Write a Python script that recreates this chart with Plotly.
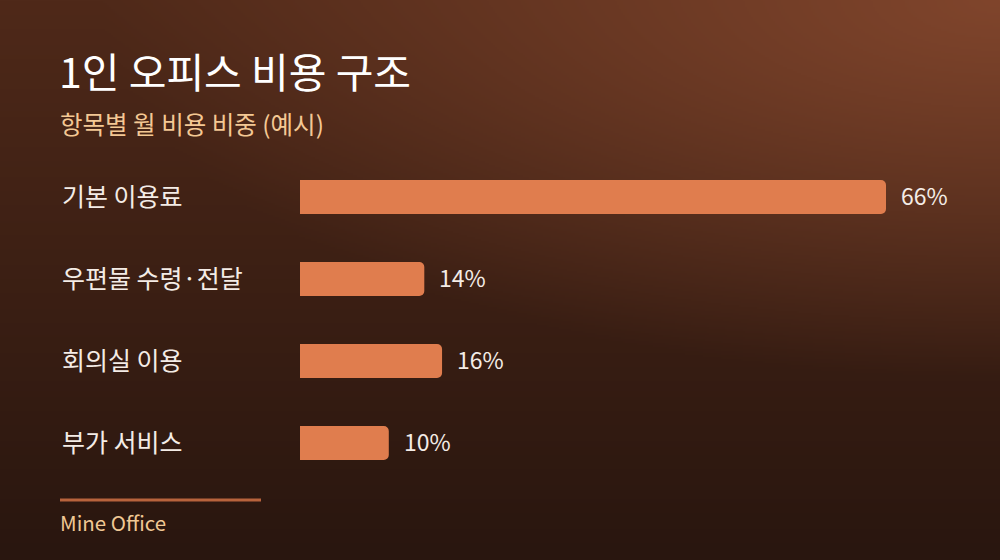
import base64, struct, zlib
import numpy as np
import plotly.graph_objects as go

# ---- data ----
categories = ["기본 이용료", "우편물 수령·전달", "회의실 이용", "부가 서비스"]
shares = [66, 14, 16, 10]
value_labels = ["66%", "14%", "16%", "10%"]
title_text = "1인 오피스 비용 구조"
subtitle_text = "항목별 월 비용 비중 (예시)"
source_text = "Mine Office"

# ---- background gradient image (style only) ----
W, H = 500, 280
ys, xs = np.mgrid[0:H, 0:W].astype(float)
ys /= (H - 1)
xs /= (W - 1)
top = np.array([0x4f, 0x29, 0x19], float)
bot = np.array([0x29, 0x16, 0x0f], float)
base = top[None, None, :] * (1 - ys[..., None]) + bot[None, None, :] * ys[..., None]
glow = np.array([0x80, 0x45, 0x2c], float)
dx = (1 - xs) * 1000 / 900.0
dy = ys * 560 / 380.0
a = np.clip(1 - np.sqrt(dx ** 2 + dy ** 2), 0, 1)[..., None]
img = (base * (1 - a) + glow[None, None, :] * a).clip(0, 255).astype(np.uint8)


def png_bytes(arr):
    h, w, _ = arr.shape
    raw = b"".join(b"\x00" + arr[r].tobytes() for r in range(h))

    def chunk(t, d):
        c = struct.pack(">I", len(d)) + t + d
        return c + struct.pack(">I", zlib.crc32(t + d) & 0xffffffff)

    return (b"\x89PNG\r\n\x1a\n" + chunk(b"IHDR", struct.pack(">IIBBBBB", w, h, 8, 2, 0, 0, 0))
            + chunk(b"IDAT", zlib.compress(raw, 9)) + chunk(b"IEND", b""))


bg_uri = "data:image/png;base64," + base64.b64encode(png_bytes(img)).decode()

FONT = "Noto Sans CJK KR"
BAR = "#e07d4e"

fig = go.Figure()
fig.add_trace(go.Bar(
    x=shares, y=categories, orientation="h",
    marker=dict(color=BAR, line=dict(width=0), cornerradius=5),
    hoverinfo="skip", showlegend=False,
))

annotations = []
for c, v, t in zip(categories, shares, value_labels):
    annotations.append(dict(x=0.06, xref="paper", y=c, yref="y", text=c, showarrow=False,
                            xanchor="left", yanchor="middle", yshift=2,
                            font=dict(family=FONT, size=25, color="#f4ece6")))
    annotations.append(dict(x=v, xref="x", y=c, yref="y", text=t, showarrow=False,
                            xanchor="left", yanchor="middle", xshift=13, yshift=2,
                            font=dict(family=FONT, size=23, color="#f4ece6")))

annotations += [
    dict(x=0.057, xref="paper", y=1 - 70 / 560, yref="paper", text=title_text, showarrow=False,
         xanchor="left", yanchor="middle", font=dict(family=FONT, size=41, color="#ffffff")),
    dict(x=0.058, xref="paper", y=1 - 123 / 560, yref="paper", text=subtitle_text, showarrow=False,
         xanchor="left", yanchor="middle", font=dict(family=FONT, size=24.5, color="#f4c894")),
    dict(x=0.058, xref="paper", y=1 - 522 / 560, yref="paper", text=source_text, showarrow=False,
         xanchor="left", yanchor="middle", font=dict(family=FONT, size=20.5, color="#f0c894")),
]

fig.update_layout(
    width=1000, height=560,
    margin=dict(l=0, r=0, t=0, b=0, pad=0),
    paper_bgcolor="#3a1f14", plot_bgcolor="rgba(0,0,0,0)",
    bargap=1 - 34 / 82,
    xaxis=dict(domain=[0.3, 0.94], range=[0, 640 / (586 / 66)], visible=False, fixedrange=True),
    yaxis=dict(domain=[1 - 484 / 560, 1 - 156 / 560], autorange="reversed", visible=False,
               fixedrange=True),
    annotations=annotations,
    shapes=[dict(type="line", xref="paper", yref="paper", x0=0.06, x1=0.261,
                 y0=1 - 500 / 560, y1=1 - 500 / 560,
                 line=dict(color="#b8633c", width=3))],
    images=[dict(source=bg_uri, xref="paper", yref="paper", x=0, y=1, sizex=1, sizey=1,
                 sizing="stretch", xanchor="left", yanchor="top", layer="below")],
    font=dict(family=FONT),
)

fig.write_html("out.html", config={"displayModeBar": False},
               post_script="document.body.style.margin='0';document.body.style.overflow='hidden';")
